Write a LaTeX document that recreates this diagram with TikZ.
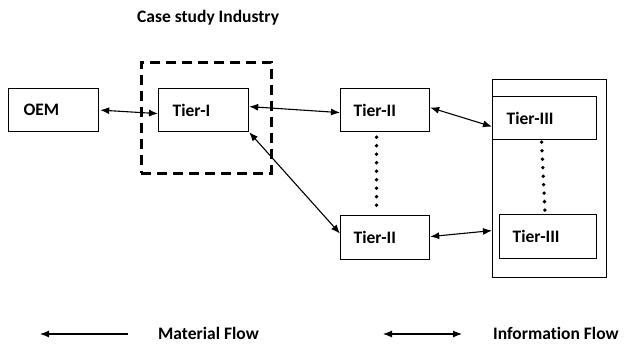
\documentclass[tikz,border=0pt]{standalone}
\usepackage{fontspec}
\setmainfont{Carlito}[Ligatures=NoCommon]
\usetikzlibrary{arrows.meta}
\begin{document}
\begin{tikzpicture}[x=1pt,y=-1pt,
  lbl/.style={font=\bfseries\fontsize{17.5}{20}\selectfont},
  box/.style={draw, line width=1.2pt, rectangle, inner ysep=0pt, minimum height=43pt, align=left, anchor=north west, lbl},
  tip/.tip={Latex[length=9pt,width=7pt]},
  arr/.style={line width=1.1pt, tip-tip},
  dots/.style={line width=3.8pt, line cap=round, dash pattern=on 0pt off 8.5pt}
]
\useasboundingbox (0,0) rectangle (627,346);
% outer box of Tier-III
\node[draw, line width=1.2pt, minimum width=114pt, minimum height=198pt, inner sep=0pt, anchor=north west] (outer) at (492,79) {};
% dashed case-study box
\node[draw, line width=2.6pt, dash pattern=on 10pt off 6pt, minimum width=130pt, minimum height=111pt, inner sep=0pt, anchor=north west] (case) at (140,61) {};
\node[lbl, anchor=west, inner sep=0pt] (title) at (137,18) {Case study Industry};
% boxes
\node[box, inner xsep=15pt, text width=60pt] (oem) at (8,88) {OEM};
\node[box, inner xsep=14pt, text width=62pt] (t1) at (158,88) {Tier-I};
\node[box, inner xsep=13pt, text width=63pt] (t2a) at (340,88) {Tier-II};
\node[box, inner xsep=13pt, text width=63pt, minimum height=44pt] (t2b) at (340,215) {Tier-II};
\node[box, inner xsep=14pt, text width=76pt] (t3a) at (492,96) {Tier-III};
\node[box, inner xsep=13pt, text width=71pt, minimum height=44pt] (t3b) at (499,214) {Tier-III};
% connectors
\draw[arr] ([xshift=1pt]oem.east) -- ([yshift=-3.5pt]t1.west);
\draw[arr] ([yshift=3.5pt]t1.east) -- ([yshift=-2.5pt]t2a.west);
\draw[arr] (t1.south east) -- ([yshift=4pt]t2b.west);
\draw[arr] ([yshift=2.5pt]t2a.east) -- ([yshift=-8.5pt]t3a.west);
\draw[arr] ([yshift=1pt]t2b.east) -- ([yshift=-52pt]outer.west);
% dotted links
\draw[dots] ([xshift=-8.5pt,yshift=-5pt]t2a.south) -- ([xshift=-8.5pt,yshift=3pt]t2b.north);
\draw[dots] ([xshift=-3pt,yshift=-2pt]t3a.south) -- ([xshift=-3pt]t3b.north);
% legend
\coordinate (m1) at (128,334);
\coordinate (m2) at (40,334);
\draw[line width=1.1pt, -tip] (m1) -- (m2);
\node[lbl, anchor=west, inner sep=0pt] (mat) at (158,333) {Material Flow};
\coordinate (i1) at (383,334);
\coordinate (i2) at (462,334);
\draw[arr] (i1) -- (i2);
\node[lbl, anchor=west, inner sep=0pt] (inf) at (493,333) {Information Flow};
\end{tikzpicture}
\end{document}
